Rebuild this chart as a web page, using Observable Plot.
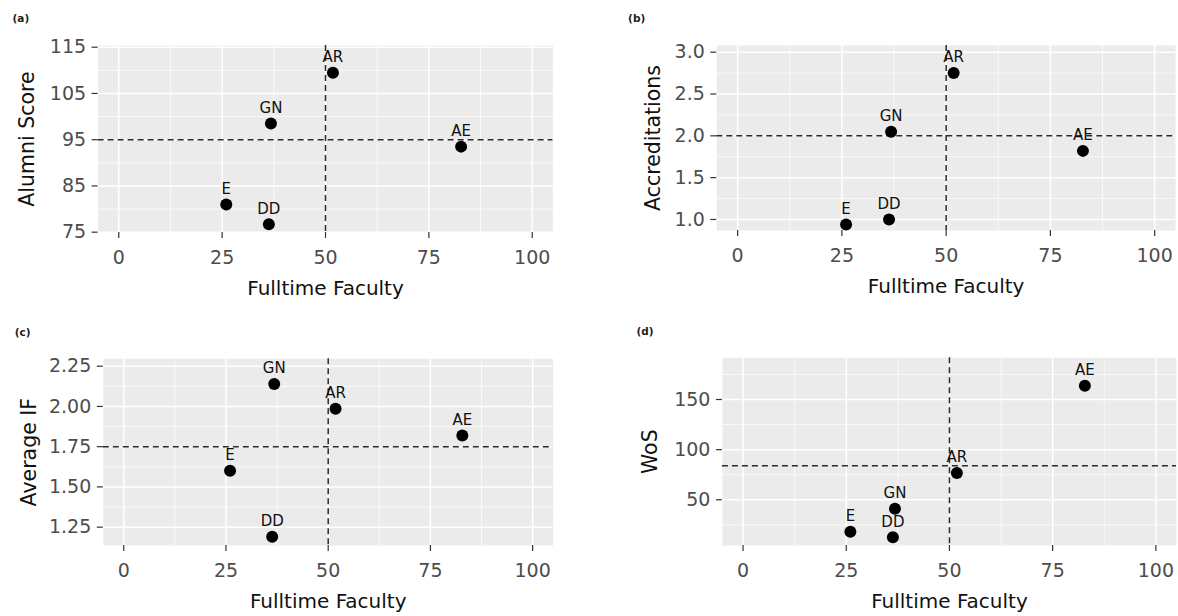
<!DOCTYPE html>
<html>
<head>
<meta charset="utf-8">
<script src="https://cdn.jsdelivr.net/npm/d3@7"></script>
<script src="https://cdn.jsdelivr.net/npm/@observablehq/plot@0.6"></script>
<style>
  html, body { margin: 0; padding: 0; background: #ffffff; }
  #wrap { position: relative; width: 1178px; height: 616px; overflow: hidden; background: #fff; }
  #wrap svg { position: absolute; }
</style>
</head>
<body>
<div id="wrap"></div>
<script>
// ---- Data ----
const schools = ["E", "DD", "GN", "AR", "AE"];
const fulltimeFaculty = [26, 36.3, 36.8, 51.8, 82.8];
const alumniScore = [81, 76.7, 98.5, 109.5, 93.5];
const accreditations = [0.94, 1.0, 2.05, 2.75, 1.82];
const averageIF = [1.60, 1.19, 2.14, 1.985, 1.82];
const wos = [18, 12.6, 41, 76.6, 163.7];

const xTicks = [0, 25, 50, 75, 100];
const xMinor = [12.5, 37.5, 62.5, 87.5];
const facultyCut = 50;

const panelLetters = ["(a)", "(b)", "(c)", "(d)"];
const yTitles = ["Alumni Score", "Accreditations", "Average IF", "WoS"];
const yValues = [alumniScore, accreditations, averageIF, wos];
const yTicksList = [[75, 85, 95, 105, 115], [1, 1.5, 2, 2.5, 3], [1.25, 1.5, 1.75, 2, 2.25], [50, 100, 150]];
const yMinorList = [[80, 90, 100, 110], [1.25, 1.75, 2.25, 2.75], [1.375, 1.625, 1.875, 2.125], [25, 75, 125, 175]];
const yFormats = ["d", ".1f", ".2f", "d"];
const yCuts = [95, 2.0, 1.75, 84];
const yDomains = [[74.93, 115.37], [0.868, 3.08], [1.136, 2.296], [4.4, 191.6]];

// ---- Layout (panel geometry only) ----
const layout = [
  {left: 0,   top: 0,   mL: 97.6,  mR: 36.6, mT: 45,   mB: 76, yTitleDx: -71, tagDx: -85.6, tagDy: -27},
  {left: 589, top: 0,   mL: 127.3, mR: 3,    mT: 45,   mB: 78, yTitleDx: -63, tagDx: -88.7, tagDy: -27},
  {left: 0,   top: 308, mL: 102.8, mR: 36.4, mT: 50.3, mB: 71, yTitleDx: -74, tagDx: -88.5, tagDy: -26.6},
  {left: 589, top: 308, mL: 132.9, mR: 2,    mT: 49.3, mB: 71, yTitleDx: -72, tagDx: -86,   tagDy: -26.3}
];

const wrap = document.getElementById("wrap");
const FONT = "DejaVu Sans";

yValues.forEach((vals, i) => {
  const L = layout[i];
  const rows = schools.map((s, j) => ({school: s, x: fulltimeFaculty[j], y: vals[j]}));
  const fmt = d3.format(yFormats[i]);
  const chart = Plot.plot({
    width: 589,
    height: 308,
    marginLeft: L.mL,
    marginRight: L.mR,
    marginTop: L.mT,
    marginBottom: L.mB,
    style: {fontFamily: FONT, background: "transparent", overflow: "visible"},
    x: {domain: [-5, 105]},
    y: {domain: yDomains[i]},
    marks: [
      Plot.frame({fill: "#EBEBEB", stroke: null}),
      Plot.ruleY(yMinorList[i], {stroke: "white", strokeWidth: 0.7}),
      Plot.ruleX(xMinor, {stroke: "white", strokeWidth: 0.7}),
      Plot.ruleY(yTicksList[i], {stroke: "white", strokeWidth: 1.5}),
      Plot.ruleX(xTicks, {stroke: "white", strokeWidth: 1.5}),
      Plot.ruleY([yCuts[i]], {stroke: "#2b2b2b", strokeWidth: 1.5, strokeDasharray: "6,4"}),
      Plot.ruleX([facultyCut], {stroke: "#2b2b2b", strokeWidth: 1.5, strokeDasharray: "6,4"}),
      Plot.dot(rows, {x: "x", y: "y", r: 6, fill: "black", stroke: null}),
      Plot.text(rows, {x: "x", y: "y", text: "school", dy: -15.5, fontSize: 15, fill: "#111"}),
      Plot.axisX({ticks: xTicks, tickSize: 6, tickPadding: 12, fontSize: 19, label: null,
                  stroke: "#333", strokeWidth: 1.2, fill: "#4D4D4D"}),
      Plot.axisY({ticks: yTicksList[i], tickFormat: fmt, tickSize: 6, tickPadding: 6, fontSize: 19, label: null,
                  stroke: "#333", strokeWidth: 1.2, fill: "#4D4D4D"}),
      Plot.text(["Fulltime Faculty"], {frameAnchor: "bottom", dy: 56.5, text: d => d, fontSize: 20,
                  lineAnchor: "middle", fill: "#111"}),
      Plot.text([yTitles[i]], {frameAnchor: "left", dx: L.yTitleDx, text: d => d, fontSize: 20.5, rotate: -90,
                  lineAnchor: "middle", textAnchor: "middle", fill: "#111"}),
      Plot.text([panelLetters[i]], {frameAnchor: "top-left", dx: L.tagDx, dy: L.tagDy, text: d => d,
                  fontSize: 10.5, fontWeight: "bold", textAnchor: "start", lineAnchor: "middle", fill: "#222"})
    ]
  });
  chart.style.left = L.left + "px";
  chart.style.top = L.top + "px";
  wrap.appendChild(chart);
});
</script>
</body>
</html>
